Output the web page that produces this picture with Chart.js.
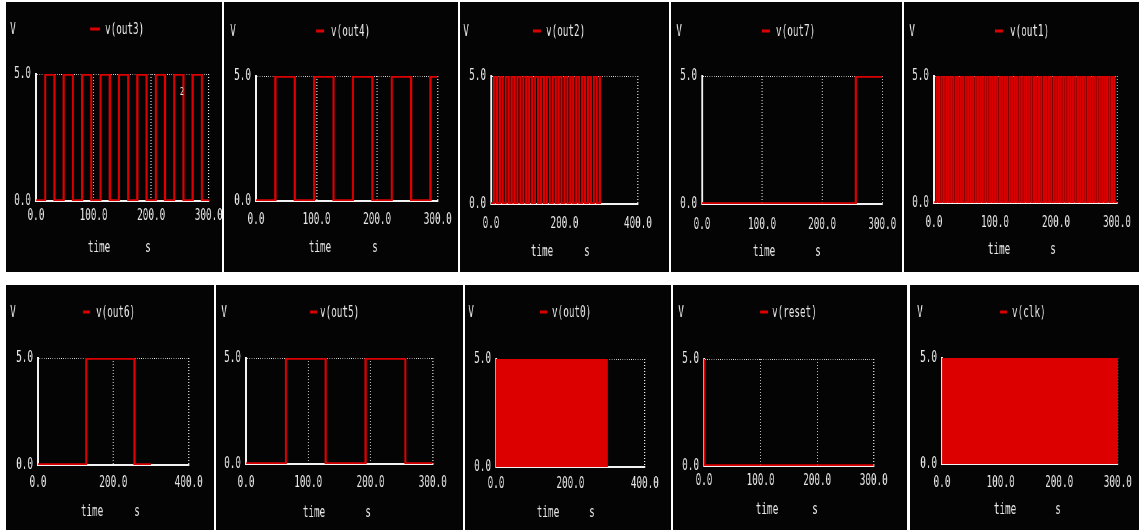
<!DOCTYPE html>
<html>
<head>
<meta charset="utf-8">
<title>counter transient plots</title>
<script src="https://cdn.jsdelivr.net/npm/chart.js@4.4.1/dist/chart.umd.min.js"></script>
<style>
  html, body { margin: 0; padding: 0; background: #fff; }
  body { width: 1139px; height: 530px; position: relative; overflow: hidden; }
  .panel { position: absolute; background: #040404; overflow: hidden; }
  .panel canvas { position: absolute; left: 0; top: 0; transform-origin: 0 0; }
</style>
</head>
<body>
<script>
// toggle times (s) of every trace
const clkEdges = [
  1,2,3,4,5,6,7,8,9,10,11,12,13,14,15,16,17,18,19,20,
  21,22,23,24,25,26,27,28,29,30,31,32,33,34,35,36,37,38,39,40,
  41,42,43,44,45,46,47,48,49,50,51,52,53,54,55,56,57,58,59,60,
  61,62,63,64,65,66,67,68,69,70,71,72,73,74,75,76,77,78,79,80,
  81,82,83,84,85,86,87,88,89,90,91,92,93,94,95,96,97,98,99,100,
  101,102,103,104,105,106,107,108,109,110,111,112,113,114,115,116,117,118,119,120,
  121,122,123,124,125,126,127,128,129,130,131,132,133,134,135,136,137,138,139,140,
  141,142,143,144,145,146,147,148,149,150,151,152,153,154,155,156,157,158,159,160,
  161,162,163,164,165,166,167,168,169,170,171,172,173,174,175,176,177,178,179,180,
  181,182,183,184,185,186,187,188,189,190,191,192,193,194,195,196,197,198,199,200,
  201,202,203,204,205,206,207,208,209,210,211,212,213,214,215,216,217,218,219,220,
  221,222,223,224,225,226,227,228,229,230,231,232,233,234,235,236,237,238,239,240,
  241,242,243,244,245,246,247,248,249,250,251,252,253,254,255,256,257,258,259,260,
  261,262,263,264,265,266,267,268,269,270,271,272,273,274,275,276,277,278,279,280,
  281,282,283,284,285,286,287,288,289,290,291,292,293,294,295,296,297,298,299
];
const out0Edges = [
  2,4,6,8,10,12,14,16,18,20,22,24,26,28,30,32,34,36,38,40,
  42,44,46,48,50,52,54,56,58,60,62,64,66,68,70,72,74,76,78,80,
  82,84,86,88,90,92,94,96,98,100,102,104,106,108,110,112,114,116,118,120,
  122,124,126,128,130,132,134,136,138,140,142,144,146,148,150,152,154,156,158,160,
  162,164,166,168,170,172,174,176,178,180,182,184,186,188,190,192,194,196,198,200,
  202,204,206,208,210,212,214,216,218,220,222,224,226,228,230,232,234,236,238,240,
  242,244,246,248,250,252,254,256,258,260,262,264,266,268,270,272,274,276,278,280,
  282,284,286,288,290,292,294,296,298
];
const out1Edges = [
  4,8,12,16,20,24,28,32,36,40,44,48,52,56,60,64,68,72,76,80,
  84,88,92,96,100,104,108,112,116,120,124,128,132,136,140,144,148,152,156,160,
  164,168,172,176,180,184,188,192,196,200,204,208,212,216,220,224,228,232,236,240,
  244,248,252,256,260,264,268,272,276,280,284,288,292,296
];
const out2Edges = [
  8,16,24,32,40,48,56,64,72,80,88,96,104,112,120,128,136,144,152,160,
  168,176,184,192,200,208,216,224,232,240,248,256,264,272,280,288,296
];
const out3Edges = [16,32,48,64,80,96,112,128,144,160,176,192,208,224,240,256,272,288];
const out4Edges = [32,64,96,128,160,192,224,256,288];
const out5Edges = [64,128,192,256];
const out6Edges = [128,256];
const out7Edges = [256];
const resetEdges = [0.5];

const endTime = 300;
const yTicks = [0, 5];
const xTicks300 = [0, 100, 200, 300];
const xTicks400 = [0, 200, 400];

const K = 0.62; // horizontal squeeze, mimics the narrow spice font
const traceColor = '#dc0000';
const textColor = '#e8e8e8';
const FONT = '"DejaVu Sans Mono", monospace';
const FSIZE = 15;

// panel boxes and plot areas in page pixels
const panels = [
  {name: 'v(out3)', edges: out3Edges, start: 0, xTicks: xTicks300, box: [6, 2, 222, 272], area: [36, 74, 209, 201], tickY: 216, v: [13, 30], dash: [90, 100], nameX: 105, time: [99, 248, 148], note: ['2', 182, 92]},
  {name: 'v(out4)', edges: out4Edges, start: 0, xTicks: xTicks300, box: [224, 2, 458, 272], area: [256, 76, 438, 201], tickY: 220, v: [233, 32], dash: [316, 324], nameX: 331, time: [320, 248, 375]},
  {name: 'v(out2)', edges: out2Edges, start: 0, xTicks: xTicks400, box: [460, 2, 669, 272], area: [491, 76, 638, 204], tickY: 224, v: [466, 32], dash: [533, 541], nameX: 546, time: [542, 252, 587]},
  {name: 'v(out7)', edges: out7Edges, start: 0, xTicks: xTicks300, box: [671, 2, 902, 272], area: [702, 76, 882, 204], tickY: 225, v: [679, 32], dash: [762, 770], nameX: 776, time: [764, 252, 818]},
  {name: 'v(out1)', edges: out1Edges, start: 0, xTicks: xTicks300, box: [904, 2, 1139, 272], area: [934, 76, 1117, 203], tickY: 223, v: [912, 32], dash: [995, 1003], nameX: 1010, time: [999, 250, 1053]},
  {name: 'v(out6)', edges: out6Edges, start: 0, xTicks: xTicks400, box: [6, 285, 214, 530], area: [38, 358, 189, 465], tickY: 483, v: [13, 313], dash: [83, 90], nameX: 96, time: [92, 512, 137]},
  {name: 'v(out5)', edges: out5Edges, start: 0, xTicks: xTicks300, box: [216, 285, 463, 530], area: [246, 358, 433, 464], tickY: 483, v: [224, 313], dash: [310, 317], nameX: 320, time: [314, 513, 368]},
  {name: 'v(out0)', edges: out0Edges, start: 0, xTicks: xTicks400, box: [465, 285, 671, 530], area: [496, 359, 645, 467], tickY: 484, v: [471, 313], dash: [540, 547], nameX: 552, time: [548, 513, 592]},
  {name: 'v(reset)', edges: resetEdges, start: 5, xTicks: xTicks300, box: [673, 285, 907, 530], area: [704, 359, 874, 466], tickY: 481, v: [681, 313], dash: [760, 768], nameX: 772, time: [767, 510, 815]},
  {name: 'v(clk)', edges: clkEdges, start: 5, xTicks: xTicks300, box: [910, 285, 1139, 530], area: [942, 358, 1118, 464], tickY: 483, v: [920, 313], dash: [1000, 1007], nameX: 1012, time: [1005, 510, 1058]}
];

function stepPoints(edges, start) {
  let level = start;
  const pts = [{x: 0, y: level}];
  edges.forEach(t => {
    level = level ? 0 : 5;
    pts.push({x: t, y: level});
  });
  pts.push({x: endTime, y: level});
  return pts;
}

const spiceText = {
  id: 'spiceText',
  afterDraw(chart, args, opts) {
    const p = opts.panel;
    const ctx = chart.ctx;
    const fx = x => (x - p.box[0]) / K;
    const fy = y => y - p.box[1];
    ctx.save();
    ctx.font = FSIZE + 'px ' + FONT;
    ctx.fillStyle = textColor;
    ctx.textBaseline = 'middle';
    ctx.textAlign = 'center';
    ctx.fillText('V', fx(p.v[0]), fy(p.v[1]));
    ctx.fillText('time', fx(p.time[0]), fy(p.time[1]));
    ctx.fillText('s', fx(p.time[2]), fy(p.time[1]));
    ctx.textAlign = 'left';
    ctx.fillText(p.name, fx(p.nameX), fy(p.v[1]));
    if (p.note) {
      ctx.font = '11px ' + FONT;
      ctx.textAlign = 'center';
      ctx.fillText(p.note[0], fx(p.note[1]), fy(p.note[2]));
    }
    ctx.fillStyle = traceColor;
    ctx.fillRect(fx(p.dash[0]), fy(p.v[1]) - 2.5, (p.dash[1] - p.dash[0]) / K, 3);
    ctx.restore();
  }
};

// size = fixed thickness of the axis box (labels are clipped to it)
function axisOptions(ticks, pad, isX, size) {
  return {
    type: 'linear',
    min: ticks[0],
    max: ticks[ticks.length - 1],
    afterBuildTicks: s => { s.ticks = ticks.map(v => ({value: v})); },
    afterFit: s => {
      if (isX) s.height = size; else s.width = size;
      s.paddingLeft = s.paddingRight = s.paddingTop = s.paddingBottom = 0;
    },
    ticks: {
      color: textColor,
      font: {family: FONT, size: FSIZE},
      padding: pad,
      autoSkip: false,
      maxRotation: 0,
      callback: v => Number(v).toFixed(1)
    },
    // vertical grid lines get squeezed too, so widen them back to ~1px
    grid: {color: '#f0f0f0', lineWidth: isX ? 1 / K : 1, drawTicks: false},
    border: {color: '#f2f2f2', width: isX ? 2 : 3, dash: [1, 2]}
  };
}

panels.forEach(p => {
  const w = p.box[2] - p.box[0];
  const h = p.box[3] - p.box[1];
  const div = document.createElement('div');
  div.className = 'panel';
  div.style.left = p.box[0] + 'px';
  div.style.top = p.box[1] + 'px';
  div.style.width = w + 'px';
  div.style.height = h + 'px';
  const canvas = document.createElement('canvas');
  const cw = Math.round(w / K);
  canvas.width = cw;
  canvas.height = h;
  canvas.style.width = cw + 'px';
  canvas.style.height = h + 'px';
  canvas.style.transform = 'scaleX(' + K + ')';
  div.appendChild(canvas);
  document.body.appendChild(div);

  const leftGap = (p.area[0] - p.box[0]) / K;
  const bottomGap = p.box[3] - p.area[3];
  const xSize = p.tickY - p.area[3] + 14;
  const ySize = leftGap - 2;

  new Chart(canvas, {
    type: 'line',
    data: {
      datasets: [{
        label: p.name,
        data: stepPoints(p.edges, p.start),
        stepped: true,
        borderColor: traceColor,
        borderWidth: 3.5,
        pointRadius: 0,
        fill: false
      }]
    },
    options: {
      responsive: false,
      animation: false,
      events: [],
      layout: {
        padding: {
          left: leftGap - ySize,
          right: (p.box[2] - p.area[2]) / K,
          top: p.area[1] - p.box[1],
          bottom: bottomGap - xSize
        }
      },
      plugins: {
        legend: {display: false},
        tooltip: {enabled: false},
        spiceText: {panel: p}
      },
      scales: {
        x: axisOptions(p.xTicks, p.tickY - p.area[3] - FSIZE * 0.6, true, xSize),
        y: axisOptions(yTicks, 5 / K, false, ySize)
      }
    },
    plugins: [spiceText]
  });
});
</script>
</body>
</html>
